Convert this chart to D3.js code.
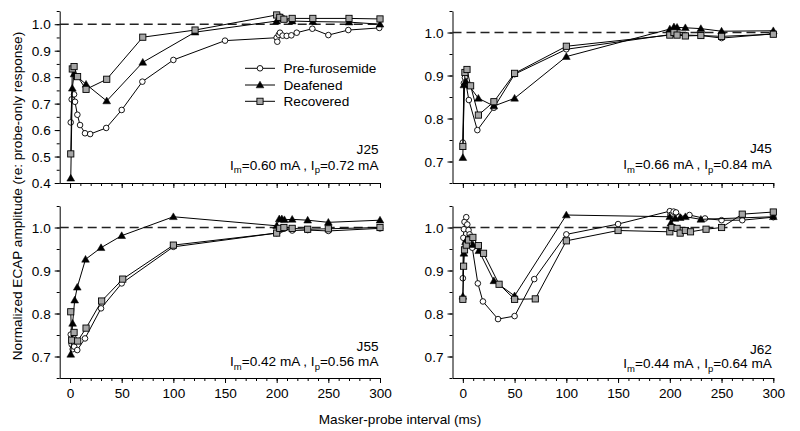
<!DOCTYPE html>
<html><head><meta charset="utf-8">
<script src="https://cdn.jsdelivr.net/npm/d3@7"></script>
<style>
body{margin:0;background:#fff}
svg{display:block}
text{font-family:"Liberation Sans",Arial,Helvetica,sans-serif;fill:#000}
</style>
</head><body>
<svg id="c" width="800" height="431"></svg>
<script>
// ---------------- DATA ----------------
const seriesNames = ["Pre-furosemide", "Deafened", "Recovered"];
const panelIds = ["J25", "J45", "J55", "J62"];
const currentsIm = ["0.60", "0.66", "0.42", "0.44"];
const currentsIp = ["0.72", "0.84", "0.56", "0.64"];
const xTickLabels = [0, 50, 100, 150, 200, 250, 300];
const yTicksJ25 = [0.4, 0.5, 0.6, 0.7, 0.8, 0.9, 1.0];
const yTicksOther = [0.7, 0.8, 0.9, 1.0];

// [masker-probe interval (ms), normalized amplitude]
const j25Pre = [[0.7,0.629],[1.6,0.716],[3.9,0.735],[4.8,0.707],[7.1,0.658],[9.7,0.619],[14.5,0.588],[19.5,0.585],[35,0.608],[50,0.676],[70,0.783],[100,0.865],[150,0.938],[200,0.949],[200.6,0.934],[202,0.960],[203.2,0.968],[205.8,0.957],[209.7,0.956],[214.2,0.958],[219.4,0.968],[234.5,0.983],[250,0.959],[269.3,0.978],[299.3,0.986]];
const j25Deaf = [[0.7,0.418],[2.2,0.758],[3.9,0.812],[15.5,0.773],[35.5,0.710],[70.4,0.856],[121,0.970],[200,1.012],[202,1.022],[204,1.026],[207,1.020],[215,1.012],[235,1.010],[270,1.008],[300,1.000]];
const j25Rec = [[0.7,0.510],[2.2,0.831],[3.9,0.840],[7.3,0.802],[15.5,0.754],[35.5,0.792],[70.4,0.951],[121,0.978],[200,1.035],[203,1.026],[207,1.019],[215,1.022],[235,1.022],[270,1.022],[300,1.020]];

const j45Pre = [[0,0.744],[1,0.882],[2,0.895],[5.8,0.843],[14,0.773],[30,0.825],[50,0.903],[100,0.961],[200,0.995],[203,0.999],[205,0.996],[215,0.994],[230,0.993],[250,0.987],[300,0.997]];
const j45Deaf = [[0,0.709],[1,0.878],[3,0.886],[15,0.847],[30,0.829],[50,0.847],[100,0.944],[200,1.008],[204,1.013],[207,1.012],[215,1.011],[230,1.009],[250,1.003],[300,1.004]];
const j45Rec = [[0,0.735],[2,0.907],[4,0.914],[7.5,0.876],[15,0.808],[30,0.839],[50,0.905],[100,0.968],[200,0.994],[204,1.000],[207,0.994],[215,0.992],[230,0.993],[250,0.991],[300,0.996]];

const j55Pre = [[0.7,0.751],[1.6,0.728],[2.6,0.717],[4,0.723],[7,0.715],[14.5,0.742],[30,0.812],[50,0.870],[100,0.955],[200,0.987],[202,0.992],[205,0.996],[207,0.997],[215,0.993],[230,0.994],[250,0.992],[300,0.998]];
const j55Deaf = [[0.7,0.705],[2.5,0.777],[4.5,0.831],[7,0.861],[15,0.926],[30,0.953],[50,0.981],[100,1.025],[200,1.004],[202.5,1.020],[205,1.020],[207.5,1.018],[215,1.019],[230,1.017],[250,1.012],[300,1.017]];
const j55Rec = [[0.7,0.804],[1.6,0.738],[3.9,0.756],[7.4,0.736],[15.5,0.766],[30.6,0.829],[51,0.880],[100,0.959],[200,0.987],[203,0.998],[207,1.000],[215,0.998],[230,0.996],[250,0.997],[300,1.000]];

const j62Pre = [[0,0.882],[0.5,0.976],[1,0.996],[1.6,1.013],[3.3,1.024],[4.3,1.007],[5.5,0.994],[6.5,0.984],[9.1,0.953],[14.5,0.870],[19.4,0.828],[34,0.787],[50,0.794],[69,0.880],[100,0.984],[150,1.008],[200,1.038],[200.6,1.029],[203.7,1.037],[206,1.035],[209,1.025],[219,1.029],[234,1.021],[250,1.017],[270,1.017],[300,1.024]];
const j62Deaf = [[0,0.840],[1,0.940],[2.6,0.967],[5,0.975],[9.7,0.960],[15.5,0.946],[30,0.876],[50,0.841],[100,1.029],[200,1.025],[201,1.010],[205,1.021],[210,1.023],[215,1.025],[230,1.019],[300,1.025]];
const j62Rec = [[0,0.833],[0.7,0.910],[1.6,0.948],[3.3,0.959],[5.5,0.971],[9.7,0.977],[15,0.958],[20,0.940],[35,0.868],[50,0.833],[70,0.834],[100,0.969],[150,0.993],[200,0.990],[202,1.000],[207,0.998],[210,0.987],[215,0.993],[220,0.990],[235,0.996],[250,1.000],[270,1.031],[300,1.036]];

const panelSeries = [
  [j25Pre, j25Deaf, j25Rec],
  [j45Pre, j45Deaf, j45Rec],
  [j55Pre, j55Deaf, j55Rec],
  [j62Pre, j62Deaf, j62Rec]
];
const panelYMin = [0.4, 0.65, 0.65, 0.65];
const panelYTicks = [yTicksJ25, yTicksOther, yTicksOther, yTicksOther];

// ---------------- LAYOUT ----------------
const FONT = 13.6;
const layout = [
  {xl: 59.7, xr: 380,   yt: 11,  yb: 183, labelsX: false, idY: 149, curY: 165},
  {xl: 452.5, xr: 773.3, yt: 11,  yb: 183, labelsX: false, idY: 148.3, curY: 164.3},
  {xl: 59.7, xr: 380,   yt: 206, yb: 378, labelsX: true,  idY: 346.7, curY: 361.7},
  {xl: 452.5, xr: 773.3, yt: 206, yb: 378, labelsX: true,  idY: 349, curY: 363.3}
];

const svg = d3.select("#c");

function drawMarker(g, type, x, y) {
  if (type === 0) {
    g.append("circle").attr("cx", x).attr("cy", y).attr("r", 2.8)
      .attr("fill", "#fff").attr("stroke", "#000").attr("stroke-width", 0.9);
  } else if (type === 1) {
    g.append("path").attr("d", d3.symbol(d3.symbolTriangle, 26)())
      .attr("transform", `translate(${x},${y + 0.6})`)
      .attr("fill", "#000").attr("stroke", "#000").attr("stroke-width", 0.5);
  } else {
    g.append("rect").attr("x", x - 3.1).attr("y", y - 3.1).attr("width", 6.2).attr("height", 6.2)
      .attr("fill", "#a6a6a6").attr("stroke", "#000").attr("stroke-width", 0.9);
  }
}

layout.forEach((L, i) => {
  const g = svg.append("g");
  const x = d3.scaleLinear().domain([-10, 300]).range([L.xl, L.xr]);
  const y = d3.scaleLinear().domain([panelYMin[i], 1.05]).range([L.yb, L.yt]);

  // minor ticks
  const xMinor = d3.range(0, 301, 10);
  const yMinor = d3.range(Math.round(panelYMin[i] * 100), 106, 5).map(v => v / 100);

  const xAxisMinor = d3.axisBottom(x).tickValues(xMinor).tickSize(3).tickSizeOuter(0).tickFormat("");
  const gxm = g.append("g").attr("transform", `translate(0,${L.yb})`).call(xAxisMinor);
  const xAxis = d3.axisBottom(x).tickValues(xTickLabels).tickSize(5).tickSizeOuter(0)
    .tickFormat(L.labelsX ? d3.format("d") : "");
  const gx = g.append("g").attr("transform", `translate(0,${L.yb})`).call(xAxis);
  gx.select(".domain").remove();

  const yAxisMinor = d3.axisLeft(y).tickValues(yMinor).tickSize(3).tickSizeOuter(0).tickFormat("");
  const gym = g.append("g").attr("transform", `translate(${L.xl},0)`).call(yAxisMinor);
  const yAxis = d3.axisLeft(y).tickValues(panelYTicks[i]).tickSize(5).tickSizeOuter(0).tickFormat(d3.format(".1f"));
  const gy = g.append("g").attr("transform", `translate(${L.xl},0)`).call(yAxis);
  gy.select(".domain").remove();

  [gxm, gx, gym, gy].forEach(a => {
    a.selectAll("path,line").attr("stroke", "#000").attr("stroke-width", 1);
    a.selectAll("text").attr("font-size", FONT).attr("font-family", '"Liberation Sans",Arial,sans-serif').attr("fill", "#000");
  });
  gy.selectAll("text").attr("x", -9).attr("dy", "0.34em");
  gx.selectAll("text").attr("y", 10).attr("dy", "0.71em");

  // dashed reference at 1.0
  g.append("line").attr("x1", x(-10)).attr("x2", x(297)).attr("y1", y(1)).attr("y2", y(1))
    .attr("stroke", "#222").attr("stroke-width", 1.3).attr("stroke-dasharray", "9,5");

  const line = d3.line().x(d => x(d[0])).y(d => y(d[1]));
  panelSeries[i].forEach((s, k) => {
    const sg = g.append("g");
    sg.append("path").attr("d", line(s)).attr("fill", "none").attr("stroke", "#000").attr("stroke-width", 1);
    s.forEach(d => drawMarker(sg, k, x(d[0]), y(d[1])));
  });

  // annotations
  g.append("text").attr("x", L.xr - 1.5).attr("y", L.idY).attr("dy", "0.35em")
    .attr("text-anchor", "end").attr("font-size", FONT).text(panelIds[i]);
  const t = g.append("text").attr("x", L.xr - 1.5).attr("y", L.curY).attr("dy", "0.35em")
    .attr("text-anchor", "end").attr("font-size", FONT);
  t.append("tspan").text("I");
  t.append("tspan").attr("font-size", 9.5).attr("dy", 3.5).text("m");
  t.append("tspan").attr("dy", -3.5).text(`=${currentsIm[i]} mA , I`);
  t.append("tspan").attr("font-size", 9.5).attr("dy", 3.5).text("p");
  t.append("tspan").attr("dy", -3.5).text(`=${currentsIp[i]} mA`);

  // legend in first panel
  if (i === 0) {
    const rowsY = [68.3, 85, 101.3];
    seriesNames.forEach((n, k) => {
      const lg = g.append("g");
      lg.append("line").attr("x1", 245).attr("x2", 275).attr("y1", rowsY[k]).attr("y2", rowsY[k])
        .attr("stroke", "#000").attr("stroke-width", 1);
      drawMarker(lg, k, 260, rowsY[k]);
      lg.append("text").attr("x", 283.5).attr("y", rowsY[k]).attr("dy", "0.35em")
        .attr("font-size", FONT).text(n);
    });
  }
});

// axis titles
svg.append("text").attr("x", 400).attr("y", 423.5).attr("text-anchor", "middle")
  .attr("font-size", FONT).text("Masker-probe interval (ms)");
svg.append("text").attr("transform", "translate(21.7,196) rotate(-90)").attr("text-anchor", "middle")
  .attr("font-size", FONT).text("Normalized ECAP amplitude (re: probe-only response)");
</script>
</body></html>
